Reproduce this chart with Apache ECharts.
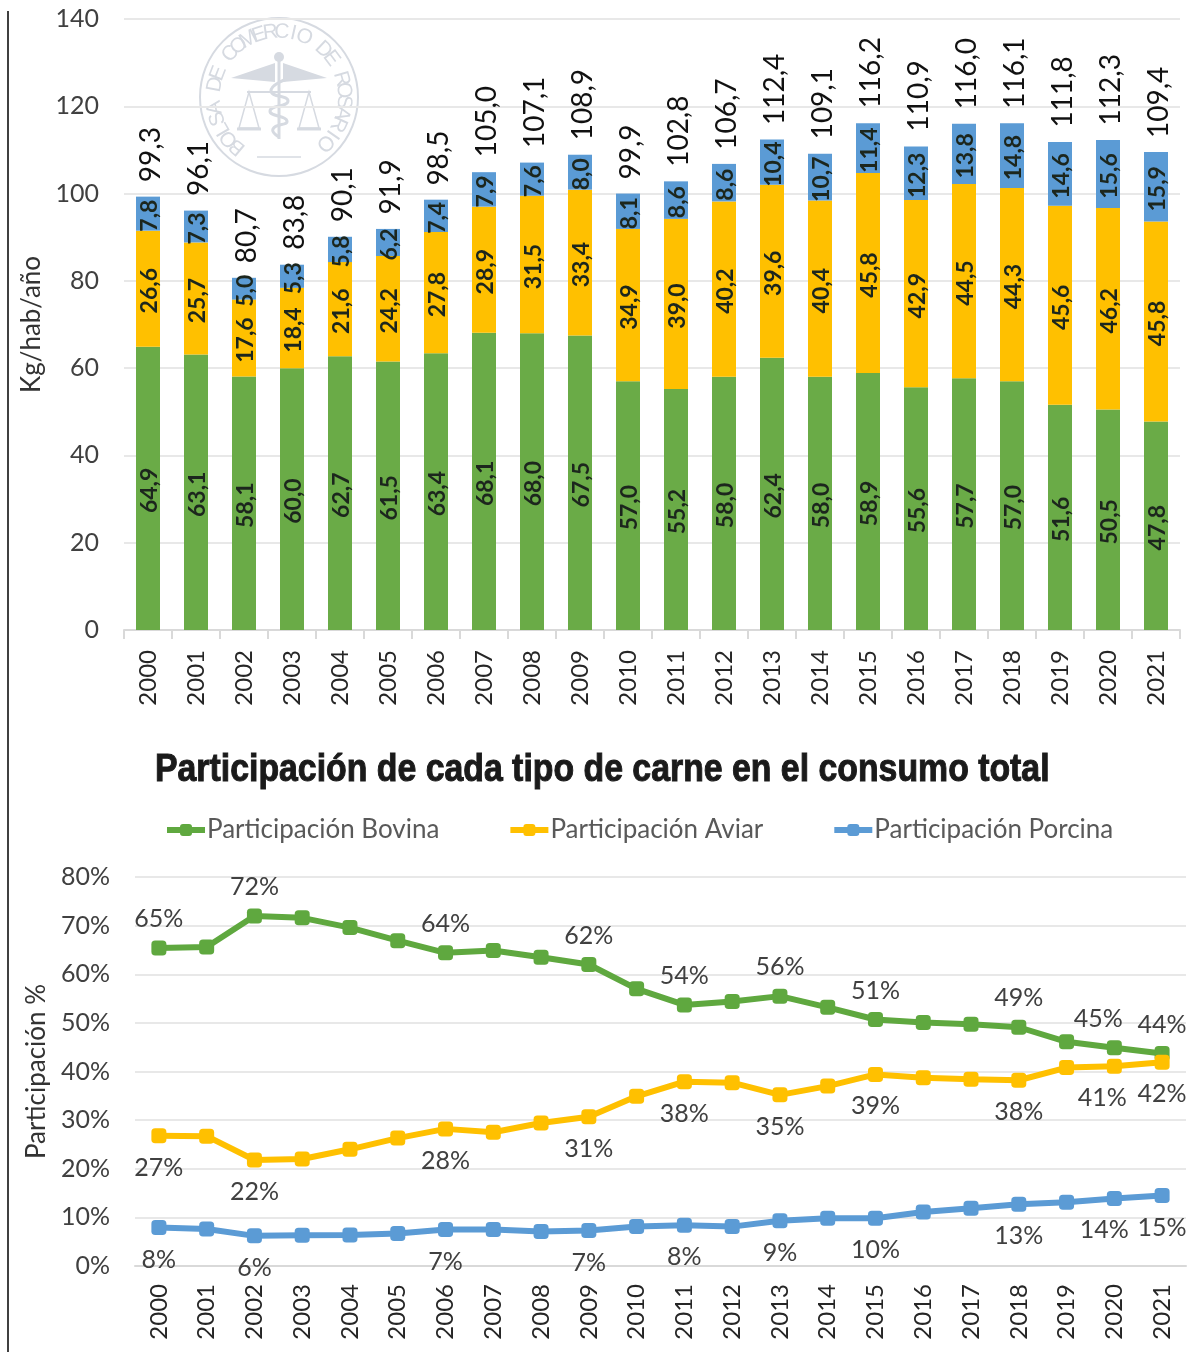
<!DOCTYPE html>
<html>
<head>
<meta charset="utf-8">
<title>Consumo de carne</title>
<script src="https://cdn.jsdelivr.net/npm/echarts@6/dist/echarts.min.js"></script>
<style>
html,body{margin:0;padding:0;background:#fff;}
#chart{width:1190px;height:1352px;}
</style>
</head>
<body>
<div id="chart"></div>
<script>
'use strict';

var years = ['2000','2001','2002','2003','2004','2005','2006','2007','2008','2009','2010','2011','2012','2013','2014','2015','2016','2017','2018','2019','2020','2021'];

// kg/hab/año
var bovina  = [64.9,63.1,58.1,60.0,62.7,61.5,63.4,68.1,68.0,67.5,57.0,55.2,58.0,62.4,58.0,58.9,55.6,57.7,57.0,51.6,50.5,47.8];
var aviar   = [26.6,25.7,17.6,18.4,21.6,24.2,27.8,28.9,31.5,33.4,34.9,39.0,40.2,39.6,40.4,45.8,42.9,44.5,44.3,45.6,46.2,45.8];
var porcina = [7.8,7.3,5.0,5.3,5.8,6.2,7.4,7.9,7.6,8.0,8.1,8.6,8.6,10.4,10.7,11.4,12.3,13.8,14.8,14.6,15.6,15.9];
var totales = [99.3,96.1,80.7,83.8,90.1,91.9,98.5,105.0,107.1,108.9,99.9,102.8,106.7,112.4,109.1,116.2,110.9,116.0,116.1,111.8,112.3,109.4];

// participación %
var partBovina  = [65.4,65.6,72.0,71.6,69.6,66.9,64.4,64.9,63.5,62.0,57.0,53.7,54.4,55.5,53.2,50.7,50.1,49.7,49.1,46.1,44.9,43.7];
var partAviar   = [26.8,26.7,21.8,22.0,24.0,26.3,28.2,27.5,29.4,30.7,34.9,37.9,37.7,35.2,37.0,39.4,38.7,38.4,38.2,40.8,41.1,41.9];
var partPorcina = [7.9,7.6,6.2,6.3,6.4,6.7,7.5,7.5,7.1,7.3,8.1,8.4,8.1,9.3,9.8,9.8,11.1,11.9,12.7,13.1,13.9,14.5];

// etiquetas visibles de cada serie (null = sin etiqueta)
var labelsBovina  = ['65%',null,'72%',null,null,null,'64%',null,null,'62%',null,'54%',null,'56%',null,'51%',null,null,'49%',null,'45%','44%'];
var labelsAviar   = ['27%',null,'22%',null,null,null,'28%',null,null,'31%',null,'38%',null,'35%',null,'39%',null,null,'38%',null,'41%','42%'];
var labelsPorcina = ['8%',null,'6%',null,null,null,'7%',null,null,'7%',null,'8%',null,'9%',null,'10%',null,null,'13%',null,'14%','15%'];

var GREEN = '#6AAB47', LINE_GREEN = '#5FA83F', YELLOW = '#FFC000', BLUE = '#5B9BD5';
var FONT = 'Lato';

function coma(v) {
    return v.toFixed(1).replace('.', ',');
}

function barSerie(name, values, color) {
    return {
        name: name,
        type: 'bar',
        stack: 'consumo',
        xAxisIndex: 0,
        yAxisIndex: 0,
        barWidth: 24,
        itemStyle: { color: color },
        label: {
            show: true,
            position: 'inside',
            rotate: 90,
            offset: [-2, 2], // el offset gira con el texto
            fontFamily: FONT,
            fontWeight: 'bold',
            fontSize: 23,
            color: '#1c261d',
            formatter: function(p) { return coma(p.value); }
        },
        data: values
    };
}

// los puntos de 2020 llevan la etiqueta corrida a la izquierda
function lineData(values, shift2020) {
    return values.map(function(v, i) {
        var item = { value: v };
        if (years[i] === '2020') {
            item.label = { offset: [shift2020, 0] };
        }
        return item;
    });
}

function lineSerie(name, values, labels, color, pos, dist, shift2020) {
    return {
        name: name,
        type: 'line',
        xAxisIndex: 1,
        yAxisIndex: 1,
        symbol: 'roundRect',
        symbolSize: 15,
        showAllSymbol: true,
        lineStyle: { color: color, width: 6 },
        itemStyle: { color: color },
        label: {
            show: true,
            position: pos,
            distance: dist,
            fontFamily: FONT,
            fontSize: 25,
            color: '#404040',
            formatter: function(p) { return labels[p.dataIndex] || ''; }
        },
        data: lineData(values, shift2020)
    };
}

// sello de agua "Bolsa de Comercio de Rosario"
function sello(cx, cy) {
    var col = '#d6dae1', out = [];
    var text = 'BOLSA DE COMERCIO DE ROSARIO';
    var start = -140, end = 135;
    for (var i = 0; i < text.length; i++) {
        var deg = start + (end - start) * i / (text.length - 1);
        var rad = deg * Math.PI / 180;
        out.push({
            type: 'text', silent: true, z: 0,
            x: cx + 65 * Math.sin(rad), y: cy - 65 * Math.cos(rad),
            rotation: -rad,
            style: { text: text[i], fill: col, font: '21px "Liberation Sans"', align: 'center', verticalAlign: 'middle' }
        });
    }
    out.push({ type: 'circle', silent: true, z: 0, shape: { cx: cx, cy: cy, r: 79 }, style: { fill: 'none', stroke: col, lineWidth: 2 } });
    // alas
    out.push({ type: 'polygon', silent: true, z: 0, shape: { points: [[cx-4, cy-34],[cx-48, cy-19],[cx-26, cy-17],[cx-4, cy-15]] }, style: { fill: col } });
    out.push({ type: 'polygon', silent: true, z: 0, shape: { points: [[cx+4, cy-34],[cx+48, cy-19],[cx+26, cy-17],[cx+4, cy-15]] }, style: { fill: col } });
    // vara y serpiente
    out.push({ type: 'line', silent: true, z: 0, shape: { x1: cx, y1: cy-40, x2: cx, y2: cy+42 }, style: { stroke: col, lineWidth: 3 } });
    out.push({ type: 'circle', silent: true, z: 0, shape: { cx: cx, cy: cy-40, r: 5 }, style: { fill: col } });
    out.push({ type: 'polyline', silent: true, z: 0, shape: { smooth: 0.6, points: [[cx+8, cy-18],[cx-8, cy-6],[cx+9, cy+4],[cx-9, cy+14],[cx+8, cy+24],[cx-6, cy+32],[cx, cy+40]] }, style: { fill: 'none', stroke: col, lineWidth: 3 } });
    // balanza
    out.push({ type: 'line', silent: true, z: 0, shape: { x1: cx-32, y1: cy-5, x2: cx+32, y2: cy-5 }, style: { stroke: col, lineWidth: 2 } });
    [-30, 30].forEach(function(d) {
        out.push({ type: 'polygon', silent: true, z: 0, shape: { points: [[cx+d, cy-5],[cx+d-10, cy+31],[cx+d+10, cy+31]] }, style: { fill: 'none', stroke: col, lineWidth: 1.5 } });
        out.push({ type: 'line', silent: true, z: 0, shape: { x1: cx+d-12, y1: cy+32, x2: cx+d+12, y2: cy+32 }, style: { stroke: col, lineWidth: 3 } });
    });
    out.push({ type: 'line', silent: true, z: 0, shape: { x1: cx-22, y1: cy+60, x2: cx+22, y2: cy+60 }, style: { stroke: col, lineWidth: 1.5 } });
    return out;
}

function xAxisCfg(grid, margin, showTick) {
    return {
        type: 'category',
        gridIndex: grid,
        data: years,
        axisLine: { show: true, lineStyle: { color: '#d9d9d9', width: 2 } },
        axisTick: { show: showTick, alignWithLabel: false, length: 9, lineStyle: { color: '#d9d9d9', width: 2 } },
        axisLabel: { rotate: 90, interval: 0, margin: margin, fontFamily: FONT, fontSize: 24, color: '#262626' }
    };
}

function yAxisCfg(grid, max, interval, fmt, name, gap) {
    return {
        type: 'value',
        gridIndex: grid,
        min: 0,
        max: max,
        interval: interval,
        name: name,
        nameLocation: 'middle',
        nameGap: gap,
        nameTextStyle: { fontFamily: FONT, fontSize: 26, color: '#333' },
        axisLine: { show: false },
        axisTick: { show: false },
        axisLabel: { formatter: fmt, margin: 25, padding: [3, 0, 0, 0], fontFamily: FONT, fontSize: 25, color: '#404040' },
        splitLine: { lineStyle: { color: '#e8e8e8', width: 2 } }
    };
}

var chart = echarts.init(document.getElementById('chart'));

chart.setOption({
    animation: false,
    backgroundColor: '#fff',
    legend: {
        data: ['Participación Bovina', 'Participación Aviar', 'Participación Porcina'],
        left: 159,
        top: 812,
        itemWidth: 38,
        itemHeight: 15,
        itemGap: 68,
        lineStyle: { width: 6 },
        textStyle: { fontFamily: FONT, fontSize: 26, color: '#595959', padding: [0, 0, 0, -3] }
    },
    grid: [
        { left: 124, right: 10, top: 19, height: 611 },
        { left: 135, right: 4, top: 877, height: 389 }
    ],
    xAxis: [xAxisCfg(0, 20, true), xAxisCfg(1, 18, false)],
    yAxis: [
        yAxisCfg(0, 140, 20, '{value}', 'Kg/hab/año', 75),
        yAxisCfg(1, 80, 10, '{value}%', 'Participación %', 83)
    ],
    graphic: [
        { type: 'line', silent: true, shape: { x1: 8, y1: 11, x2: 8, y2: 1352 }, style: { stroke: '#404040', lineWidth: 2 } },
        // titulo angosto: no hay fuente condensada instalada
        {
            type: 'text', silent: true,
            x: 155, y: 771,
            scaleX: 0.89,
            style: {
                text: 'Participación de cada tipo de carne en el consumo total',
                font: 'bold 38px "Liberation Sans"',
                fill: '#1a1a1a',
                stroke: '#1a1a1a',
                lineWidth: 1,
                align: 'left',
                verticalAlign: 'middle'
            }
        }
    ].concat(sello(279, 97)),
    series: [
        barSerie('Bovina', bovina, GREEN),
        barSerie('Aviar', aviar, YELLOW),
        barSerie('Porcina', porcina, BLUE),
        {
            name: 'Total',
            type: 'line',
            xAxisIndex: 0,
            yAxisIndex: 0,
            symbol: 'circle',
            symbolSize: 1,
            showAllSymbol: true,
            itemStyle: { color: 'transparent' },
            lineStyle: { width: 0, color: 'transparent' },
            label: {
                show: true,
                position: 'top',
                distance: 15,
                rotate: 90,
                align: 'left',
                verticalAlign: 'middle',
                offset: [-1, 3],
                fontFamily: FONT,
                fontSize: 28,
                color: '#111',
                formatter: function(p) { return coma(p.value); }
            },
            data: totales
        },
        lineSerie('Participación Bovina', partBovina, labelsBovina, LINE_GREEN, 'top', 9, -16),
        lineSerie('Participación Aviar', partAviar, labelsAviar, YELLOW, 'bottom', 12, -12),
        lineSerie('Participación Porcina', partPorcina, labelsPorcina, BLUE, 'bottom', 12, -10)
    ]
});
</script>
</body>
</html>
